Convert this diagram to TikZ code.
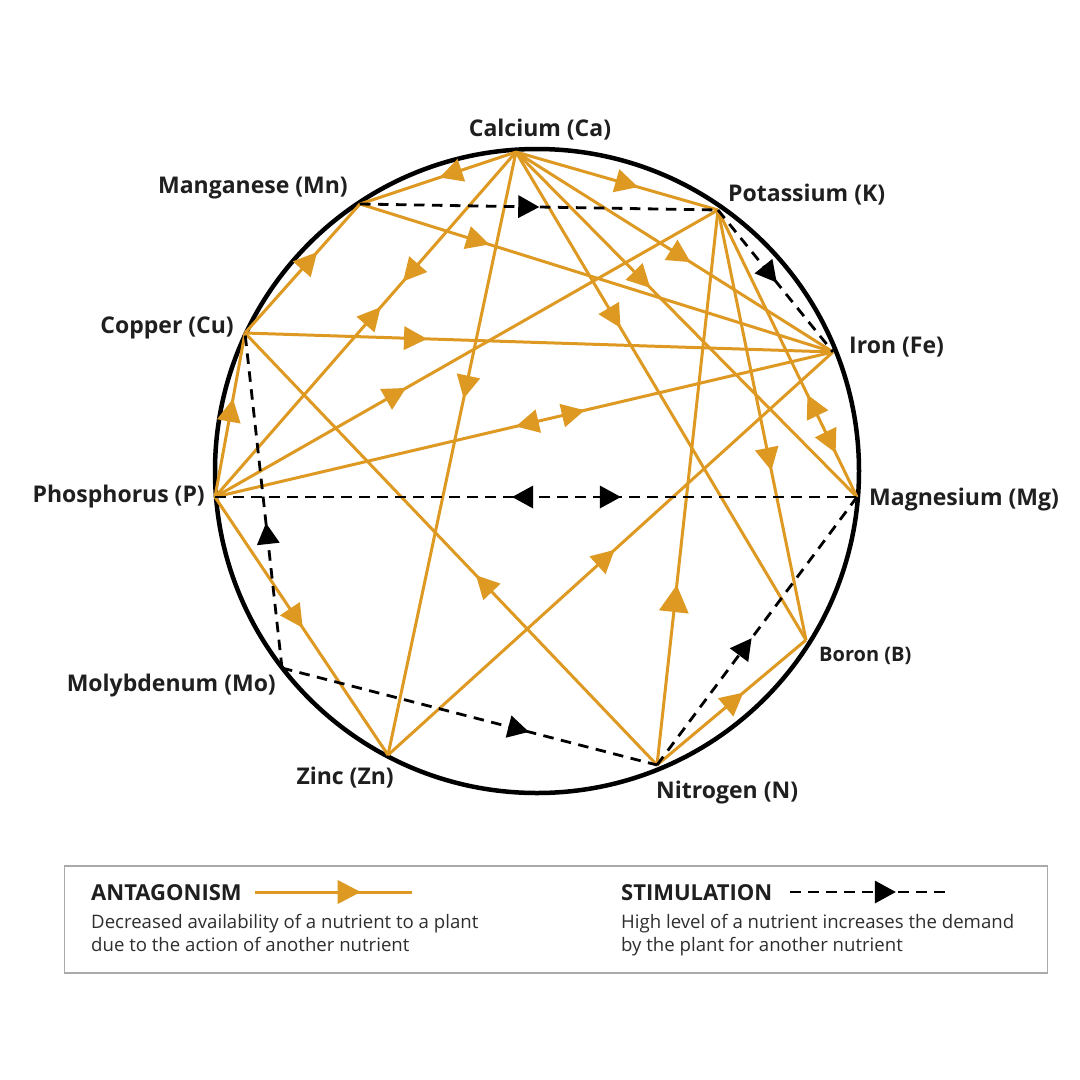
\documentclass[tikz,border=0pt]{standalone}
\usepackage{fontspec}
\setmainfont{Open Sans}
\usetikzlibrary{decorations.markings}
\definecolor{orng}{RGB}{222,153,35}
\definecolor{boxgray}{RGB}{170,170,170}
\tikzset{
  antline/.style={draw, color=orng, line width=3pt},
  stimline/.style={draw, color=black, line width=2.8pt, dash pattern=on 10.5pt off 7.5pt},
  fw/.style={postaction={decorate,decoration={markings,mark=at position #1 with {\fill (11.5pt,0pt) -- (-11.5pt,12pt) -- (-11.5pt,-12pt) -- cycle;}}}},
  bw/.style={postaction={decorate,decoration={markings,mark=at position #1 with {\fill (-11.5pt,0pt) -- (11.5pt,12pt) -- (11.5pt,-12pt) -- cycle;}}}},
  bigfw/.style={postaction={decorate,decoration={markings,mark=at position #1 with {\fill (13.5pt,0pt) -- (-13.5pt,15pt) -- (-13.5pt,-15pt) -- cycle;}}}},
  sfw/.style={postaction={decorate,decoration={markings,mark=at position #1 with {\fill (11pt,0pt) -- (-10pt,11.5pt) -- (-10pt,-11.5pt) -- cycle;}}}},
  sbw/.style={postaction={decorate,decoration={markings,mark=at position #1 with {\fill (-11pt,0pt) -- (10pt,11.5pt) -- (10pt,-11.5pt) -- cycle;}}}},
  lbl/.style={font=\fontsize{23}{27}\selectfont\bfseries, inner sep=0pt, text=black!88},
  lblsmall/.style={font=\fontsize{20}{24}\selectfont\bfseries, inner sep=0pt, text=black!88},
  lghead/.style={font=\fontsize{22}{26}\selectfont\bfseries, inner sep=0pt, anchor=base west, text=black!88},
  lgtext/.style={font=\fontsize{18.6}{22}\selectfont, inner sep=0pt, anchor=base west, text=black!82},
}
\begin{document}
\begin{tikzpicture}[x=1pt,y=-1pt]
\useasboundingbox[fill=white] (0,0) rectangle (1080,1080);

% circle
\node[circle, draw=black, line width=4.5pt, minimum size=644pt, inner sep=0pt] (ring) at (537,471) {};

% nutrient points
\coordinate (Ca) at (516,152);
\coordinate (Mn) at (360,204);
\coordinate (K)  at (718,210);
\coordinate (Cu) at (245,333);
\coordinate (Fe) at (833,352);
\coordinate (P)  at (215,497);
\coordinate (Mg) at (857,497);
\coordinate (B)  at (806,640);
\coordinate (Mo) at (282,668);
\coordinate (Zn) at (388,755);
\coordinate (N)  at (657,765);

% antagonism
\draw[antline, fw=0.42] (Ca) -- (Mn);
\draw[antline, fw=0.55] (Ca) -- (K);
\draw[antline, fw=0.52] (Ca) -- (Fe);
\draw[antline, fw=0.37] (Ca) -- (Mg);
\draw[antline, fw=0.34] (Ca) -- (B);
\draw[antline, fw=0.39] (Ca) -- (Zn);
\draw[antline, fw=0.35, bw=0.475] (Ca) -- (P);
\draw[antline, fw=0.25] (Mn) -- (Fe);
\draw[antline, fw=0.56] (Cu) -- (Mn);
\draw[antline, fw=0.29] (Cu) -- (Fe);
\draw[antline, fw=0.42] (N) -- (Cu);
\draw[antline, fw=0.53] (P) -- (Cu);
\draw[antline, fw=0.36] (P) -- (K);
\draw[antline, bw=0.505, fw=0.58] (P) -- (Fe);
\draw[antline, fw=0.47] (P) -- (Zn);
\draw[antline, fw=0.49] (Zn) -- (Fe);
\draw[antline, bigfw=0.30] (N) -- (K);
\draw[antline, fw=0.58] (K) -- (B);
\draw[antline, bw=0.68, fw=0.81] (K) -- (Mg);
\draw[antline, fw=0.52] (N) -- (B);

% stimulation
\draw[stimline, sfw=0.47] (Mn) -- (K);
\draw[stimline, sfw=0.45] (K) -- (Fe);
\draw[stimline, sbw=0.48, sfw=0.615] (P) -- (Mg);
\draw[stimline, sfw=0.40] (Mo) -- (Cu);
\draw[stimline, sfw=0.63] (Mo) -- (N);
\draw[stimline, sfw=0.44] (N) -- (Mg);

% labels
\node[lbl] (tCa) at (540,130) {Calcium (Ca)};
\node[lbl, anchor=east] (tMn) at (348,188) {Manganese (Mn)};
\node[lbl, anchor=west] (tK) at (728,195) {Potassium (K)};
\node[lbl, anchor=east] (tCu) at (234,328) {Copper (Cu)};
\node[lbl, anchor=west] (tFe) at (849,347) {Iron (Fe)};
\node[lbl, anchor=east] (tP) at (205,497) {Phosphorus (P)};
\node[lbl, anchor=west] (tMg) at (869,500) {Magnesium (Mg)};
\node[lblsmall, anchor=west] (tB) at (819,656) {Boron (B)};
\node[lbl, anchor=east] (tMo) at (276,686) {Molybdenum (Mo)};
\node[lbl, anchor=east] (tZn) at (394,778) {Zinc (Zn)};
\node[lbl, anchor=west] (tN) at (656,793) {Nitrogen (N)};

% legend
\node[draw=boxgray, line width=1.4pt, minimum width=983pt, minimum height=107pt, inner sep=0pt] (legend) at (556,919.5) {};
\node[lghead] (hA) at (91,900) {ANTAGONISM};
\coordinate (aS) at (255,892);
\coordinate (aE) at (412,892);
\draw[antline, fw=0.6] (aS) -- (aE);
\node[lgtext] (dA1) at (91,928) {Decreased availability of a nutrient to a plant};
\node[lgtext] (dA2) at (91,951) {due to the action of another nutrient};
\node[lghead] (hS) at (621,900) {STIMULATION};
\coordinate (sS) at (790,892);
\coordinate (sE) at (948,892);
\draw[stimline, sfw=0.6] (sS) -- (sE);
\node[lgtext] (dS1) at (621,928) {High level of a nutrient increases the demand};
\node[lgtext] (dS2) at (621,951) {by the plant for another nutrient};
\end{tikzpicture}
\end{document}
